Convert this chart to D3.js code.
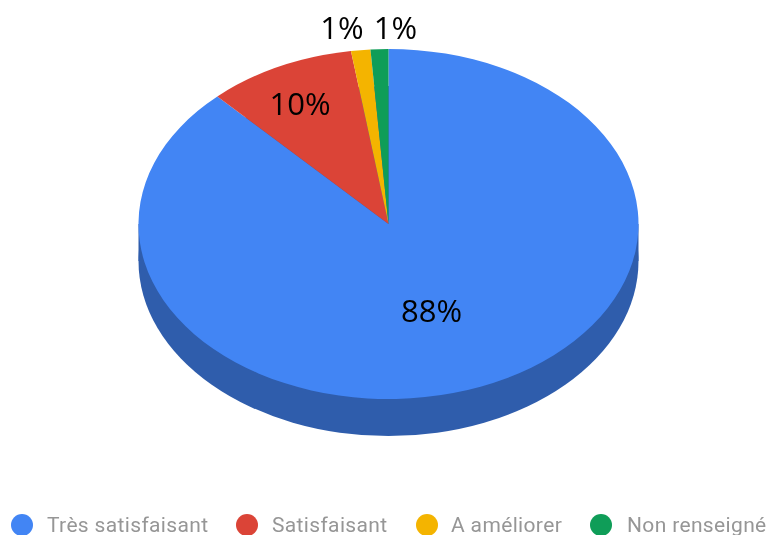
<!DOCTYPE html>
<html>
<head>
<meta charset="utf-8">
<script src="https://cdn.jsdelivr.net/npm/d3@7"></script>
<style>
  html, body { margin: 0; padding: 0; background: #fff; }
  svg { display: block; filter: blur(0.45px); }
  .pct { font-family: "Open Sans", sans-serif; font-size: 31px; fill: #000; text-anchor: middle; }
  .legend text { font-family: Roboto, sans-serif; font-size: 21px; fill: #969696; letter-spacing: 0.35px; }
</style>
</head>
<body>
<svg width="768" height="535"></svg>
<script>
const categories = ["Très satisfaisant", "Satisfaisant", "A améliorer", "Non renseigné"];
const values = [88.0, 9.6, 1.25, 1.15];
const percentLabels = ["88%", "10%", "1%", "1%"];
const colors = ["#4285f4", "#db4437", "#f4b400", "#0f9d58"];
const sideColor = "#2f5dac";

const width = 768;
const height = 535;
const cx = 388.5;
const cy = 224;
const radius = 250;
const squash = 0.7;
const depth = 37;

// label centres relative to the pie centre
const labelDx = [43, -88.5, -46.5, 7];
const labelDy = [86, -121, -197, -197];

// legend layout
const legendDot = [22, 247, 427, 601];
const legendText = [47, 272, 451, 627];
const legendY = 525;

const svg = d3.select("svg");

const pie = d3.pie().sort(null).value(d => d);
const arc = d3.arc().innerRadius(0).outerRadius(radius);
const slices = pie(values);

// Side wall: bottom disc plus the band between the two discs
const side = svg.append("g").attr("transform", `translate(${cx}, ${cy})`);
side
  .append("rect")
  .attr("x", -radius)
  .attr("y", 0)
  .attr("width", 2 * radius)
  .attr("height", depth)
  .attr("fill", sideColor);
side
  .append("ellipse")
  .attr("cx", 0)
  .attr("cy", depth)
  .attr("rx", radius)
  .attr("ry", radius * squash)
  .attr("fill", sideColor);

// Top face
const top_ = svg
  .append("g")
  .attr("transform", `translate(${cx}, ${cy}) scale(1, ${squash})`);

top_
  .selectAll("path")
  .data(slices)
  .enter()
  .append("path")
  .attr("d", arc)
  .attr("fill", (d, i) => colors[i]);

// Percent labels
svg
  .selectAll(".pct")
  .data(percentLabels)
  .enter()
  .append("text")
  .attr("class", "pct")
  .attr("x", (d, i) => cx + labelDx[i])
  .attr("y", (d, i) => cy + labelDy[i])
  .attr("dominant-baseline", "central")
  .text(d => d);

// Legend
const legend = svg.append("g").attr("class", "legend");
legend
  .selectAll("circle")
  .data(categories)
  .enter()
  .append("circle")
  .attr("cx", (d, i) => legendDot[i])
  .attr("cy", legendY)
  .attr("r", 11)
  .attr("fill", (d, i) => colors[i]);
legend
  .selectAll("text")
  .data(categories)
  .enter()
  .append("text")
  .attr("x", (d, i) => legendText[i])
  .attr("y", legendY + 7)
  .text(d => d);
</script>
</body>
</html>
